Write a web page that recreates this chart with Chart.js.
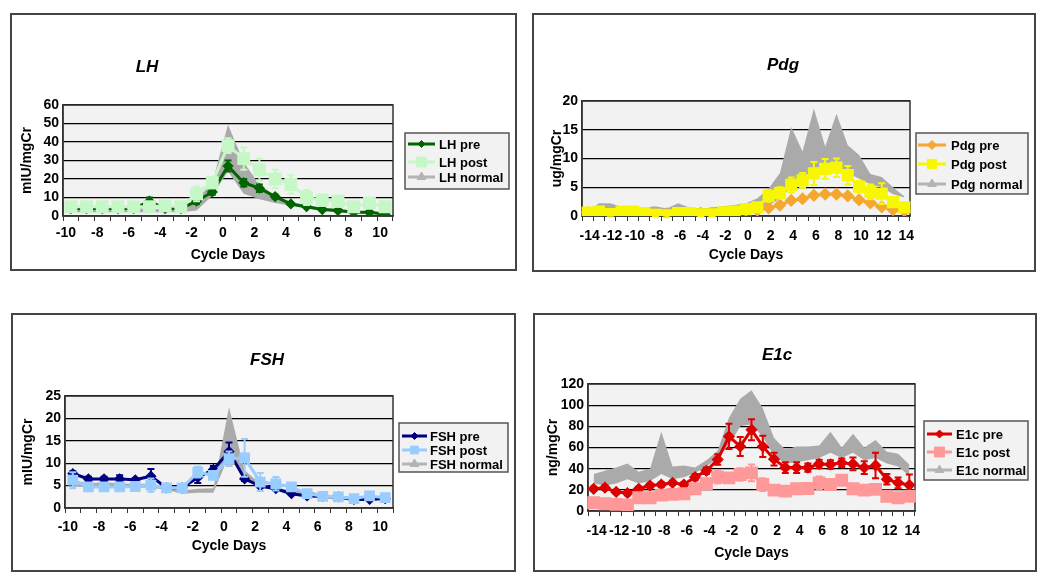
<!DOCTYPE html>
<html>
<head>
<meta charset="utf-8">
<script src="https://cdn.jsdelivr.net/npm/chart.js@4.4.1/dist/chart.umd.min.js"></script>
<style>
  body { margin: 0; background: #fff; width: 1050px; height: 585px; position: relative; overflow: hidden; }
  canvas { position: absolute; }
  .borda { position: absolute; border: 2px solid #444; box-sizing: border-box; pointer-events: none; }
</style>
</head>
<body>
<canvas id="g-lh" width="507" height="258" style="left:10px;top:13px"></canvas>
<div class="borda" style="left:10px;top:13px;width:507px;height:258px"></div>
<canvas id="g-pdg" width="504" height="259" style="left:532px;top:13px"></canvas>
<div class="borda" style="left:532px;top:13px;width:504px;height:259px"></div>
<canvas id="g-fsh" width="505" height="259" style="left:11px;top:313px"></canvas>
<div class="borda" style="left:11px;top:313px;width:505px;height:259px"></div>
<canvas id="g-e1c" width="504" height="259" style="left:533px;top:313px"></canvas>
<div class="borda" style="left:533px;top:313px;width:504px;height:259px"></div>

<script>
// dias do ciclo
const diasCurtos = [-10, -9, -8, -7, -6, -5, -4, -3, -2, -1, 0, 1, 2, 3, 4, 5, 6, 7, 8, 9, 10];
const diasLongos = [-14, -13, -12, -11, -10, -9, -8, -7, -6, -5, -4, -3, -2, -1, 0, 1, 2, 3, 4, 5, 6, 7, 8, 9, 10, 11, 12, 13, 14];

// LH
const lhPre = [4, 4, 4, 4, 4, 8, 4, 4, 8, 13, 27, 18, 15, 10.5, 6.5, 5, 3.5, 3, 2, 2, 1];
const lhPreErro = [0, 0, 0, 0, 0, 2, 0.5, 0.5, 1.5, 1.5, 3, 2, 2, 1, 0.5, 0.5, 0.5, 0.5, 0.5, 0.5, 0.5];
const lhPost = [5, 5, 5, 5, 5, 5, 5.5, 5, 12, 18, 38, 31, 25, 20, 17, 10, 8.5, 8, 5, 7, 5];
const lhPostErro = [1, 1, 1, 1, 1, 1, 1, 1, 4, 3, 4, 6, 6, 5, 5, 4, 3, 3, 2, 3, 2];
const lhNormalMin = [2, 2, 2, 2, 2, 2, 2, 2, 3, 11, 24, 12, 9, 7, 5.5, 4, 3, 2, 1.5, 1, 1];
const lhNormalMax = [4, 4, 4, 4, 4, 4, 3.5, 3.5, 9, 18, 49.5, 29, 17, 11, 7.5, 6, 4.5, 3.8, 3, 2.5, 2.2];

// Pdg
const pdgPre = [0.6, 0.6, 0.5, 0.5, 0.5, 0.5, 0.4, 0.4, 0.5, 0.5, 0.5, 0.5, 0.6, 0.8, 1.0, 1.0, 1.4, 1.9, 2.7, 3.0, 3.6, 3.8, 3.8, 3.5, 2.8, 2.3, 1.6, 1.1, 0.9];
const pdgPreErro = [0.2, 0.2, 0.2, 0.2, 0.2, 0.2, 0.2, 0.2, 0.2, 0.2, 0.2, 0.2, 0.2, 0.2, 0.2, 0.2, 0.3, 0.3, 0.3, 0.3, 0.3, 0.3, 0.3, 0.3, 0.3, 0.3, 0.3, 0.3, 0.3];
const pdgPost = [0.6, 0.75, 0.35, 0.75, 0.75, 0.5, 0.2, 0.1, 0.5, 0.5, 0.3, 0.3, 0.65, 0.75, 1.2, 1.5, 3.5, 4.0, 5.4, 6.2, 7.4, 8.2, 8.4, 7.1, 5.1, 4.2, 3.9, 2.4, 1.5];
const pdgPostErro = [0.3, 0.3, 0.3, 0.3, 0.3, 0.3, 0.3, 0.3, 0.3, 0.3, 0.3, 0.3, 0.3, 0.3, 0.4, 0.4, 1.0, 1.0, 1.3, 1.3, 2.0, 1.7, 1.6, 1.6, 1.0, 1.3, 1.8, 0.6, 0.5];
const pdgNormalMin = [0.3, 0.5, 0.5, 0.4, 0.4, 0.4, 0.4, 0.4, 0.5, 0.4, 0.4, 0.4, 0.5, 0.5, 0.7, 1.0, 1.8, 3.0, 5.0, 6.0, 7.0, 8.0, 8.0, 7.5, 6.5, 5.5, 5.0, 3.8, 3.2];
const pdgNormalMax = [0.8, 2.2, 2.2, 1.6, 1.4, 1.5, 1.7, 1.3, 2.2, 1.5, 1.3, 1.5, 1.7, 1.9, 2.2, 3.1, 4.8, 7.5, 15.5, 11.2, 18.7, 12.1, 17.8, 12.3, 10.6, 7.3, 6.8, 5.0, 3.4];

// FSH
const fshPre = [7.7, 6.5, 6.5, 6.5, 6.3, 7.1, 4.5, 4.5, 6.8, 8.6, 12.6, 6.5, 4.9, 4.3, 3.2, 2.7, 2.6, 2.5, 1.9, 1.9, 2.1];
const fshPreErro = [0.5, 0.5, 0.5, 0.8, 0.4, 1.6, 0.3, 0.3, 1.2, 0.8, 2, 0.5, 0.3, 0.3, 0.3, 0.2, 0.2, 0.2, 0.2, 0.2, 0.2];
const fshPost = [6.2, 4.7, 4.7, 4.7, 4.8, 5.1, 4.5, 4.5, 8.0, 7.3, 11.0, 11.2, 5.8, 5.4, 4.7, 3.2, 2.6, 2.5, 2.1, 2.7, 2.3];
const fshPostErro = [1.8, 0.6, 0.6, 0.8, 0.6, 1.5, 0.8, 0.4, 1.2, 0.6, 1.6, 4.2, 2.0, 1.5, 0.8, 0.3, 0.3, 0.3, 0.3, 0.5, 0.4];
const fshNormalMin = [5, 4.5, 4.7, 4.5, 4.5, 4.5, 4.1, 3.2, 3.4, 3.4, 11.8, 6.2, 4.5, 3.9, 3.0, 2.5, 2.1, 1.9, 1.6, 1.7, 1.9];
const fshNormalMax = [6.3, 5.4, 5.8, 5.4, 5.4, 5.4, 4.7, 3.9, 4.3, 4.4, 22.5, 8.4, 5.4, 4.5, 3.9, 4.1, 2.8, 2.6, 2.3, 2.3, 2.6];

// E1c
const e1cPre = [21, 22, 18, 17, 21, 24, 25, 26.6, 25, 32, 38, 48.6, 70.5, 61, 76.8, 61, 49, 41, 41, 41, 44.5, 44, 45.5, 44.5, 41, 43, 30, 26.6, 24.5];
const e1cPreErro = [2, 2, 2, 2, 2, 2, 2, 2, 2, 3, 3, 5, 12, 9, 10, 10, 6, 5, 5, 4, 4, 4, 4, 6, 6, 12, 5, 5, 10];
const e1cPost = [7.8, 6.9, 6.3, 5.6, 12.5, 12.5, 15, 15.7, 16.3, 21, 25.7, 32, 31.3, 34.5, 36, 25, 19.7, 18.8, 21, 21.3, 26.6, 25, 29, 21, 19.7, 20.4, 14, 12.5, 14];
const e1cPostErro = [2, 2, 2, 2, 2, 2, 2, 2, 2, 3, 4, 6, 4, 6, 8, 6, 3, 2, 2, 2, 6, 3, 3, 2, 2, 3, 2, 2, 2];
const e1cNormalMin = [26, 24, 26, 30, 26, 28, 35, 30, 32, 36, 42, 50, 62, 80, 82, 70, 52, 45, 46, 48, 50, 55, 50, 55, 48, 50, 45, 42, 33];
const e1cNormalMax = [35, 38, 41, 45, 37, 40, 75, 42, 43, 41, 48, 57, 88, 106, 114, 97, 69, 58, 61, 61, 62, 75, 60, 73, 60, 67, 56, 54, 44];

Chart.defaults.font.family = '"Liberation Sans", Arial, sans-serif';
Chart.defaults.font.weight = 'bold';
Chart.defaults.font.size = 14;
Chart.defaults.color = '#000';

const FONTE = '"Liberation Sans", Arial, sans-serif';
const COR_NORMAL = '#aaaaaa';

// desenha as barras de erro de cada serie
const barrasErro = {
  id: 'barrasErro',
  afterDatasetDraw(chart, args) {
    const ds = chart.data.datasets[args.index];
    if (!ds.erros) return;
    const escalaY = chart.scales.y;
    const ctx = chart.ctx;
    ctx.save();
    ctx.strokeStyle = ds.borderColor;
    ctx.lineWidth = 2;
    args.meta.data.forEach((pt, i) => {
      const e = ds.erros[i];
      if (!e) return;
      const v = ds.data[i];
      const y1 = escalaY.getPixelForValue(v + e);
      const y2 = escalaY.getPixelForValue(v - e);
      ctx.beginPath();
      ctx.moveTo(pt.x, y1); ctx.lineTo(pt.x, y2);
      ctx.moveTo(pt.x - 3.5, y1); ctx.lineTo(pt.x + 3.5, y1);
      ctx.moveTo(pt.x - 3.5, y2); ctx.lineTo(pt.x + 3.5, y2);
      ctx.stroke();
    });
    ctx.restore();
  }
};

function montarGrafico(id, p) {
  // fundo, moldura, titulo e legenda em caixa (estilo excel)
  const moldura = {
    id: 'moldura',
    beforeDraw(chart) {
      const a = chart.chartArea;
      const ctx = chart.ctx;
      ctx.save();
      ctx.fillStyle = '#f2f2f2';
      ctx.fillRect(a.left, a.top, a.right - a.left, a.bottom - a.top);
      ctx.restore();
    },
    beforeDatasetsDraw(chart) {
      const a = chart.chartArea;
      const ctx = chart.ctx;
      ctx.save();
      ctx.strokeStyle = '#333';
      ctx.lineWidth = 1.5;
      ctx.strokeRect(a.left, a.top, a.right - a.left, a.bottom - a.top);
      ctx.restore();
    },
    afterDraw(chart) {
      const ctx = chart.ctx;
      ctx.save();
      ctx.fillStyle = '#000';
      ctx.font = 'italic bold 17px ' + FONTE;
      ctx.textAlign = 'center';
      ctx.textBaseline = 'middle';
      ctx.fillText(p.nome, p.titulo[0], p.titulo[1]);

      const L = p.legenda;
      ctx.fillStyle = '#f2f2f2';
      ctx.fillRect(L.x, L.y, L.w, L.h);
      ctx.strokeStyle = '#555';
      ctx.lineWidth = 1.5;
      ctx.strokeRect(L.x, L.y, L.w, L.h);

      [1, 0, 2].forEach((idx, k) => {
        const ds = chart.data.datasets[idx];
        const cor = ds.corLegenda || ds.borderColor;
        const y = L.itens[k];
        ctx.strokeStyle = cor;
        ctx.lineWidth = 3;
        ctx.beginPath();
        ctx.moveTo(L.linhaX, y);
        ctx.lineTo(L.linhaX + L.linhaW, y);
        ctx.stroke();
        ctx.fillStyle = cor;
        ctx.lineWidth = 1;
        Chart.helpers.drawPoint(ctx, {
          pointStyle: ds.estiloLegenda || ds.pointStyle,
          radius: ds.raioLegenda || ds.pointRadius,
          rotation: 0,
          borderWidth: 1
        }, L.linhaX + L.linhaW / 2, y);
        ctx.fillStyle = '#000';
        ctx.font = 'bold 13px ' + FONTE;
        ctx.textAlign = 'left';
        ctx.textBaseline = 'middle';
        ctx.fillText(ds.label, L.textoX, y + 1);
      });
      ctx.restore();
    }
  };

  const canvas = document.getElementById(id);
  const a = p.area;

  new Chart(canvas, {
    type: 'line',
    data: {
      labels: p.dias,
      datasets: [
        {
          label: p.nome + ' post', data: p.post, erros: p.postErro,
          borderColor: p.corPost, backgroundColor: p.corPost, pointBorderColor: p.corPost,
          pointStyle: 'rect', pointRadius: p.raioPost, borderWidth: 3, tension: 0, order: 1
        },
        {
          label: p.nome + ' pre', data: p.pre, erros: p.preErro,
          borderColor: p.corPre, backgroundColor: p.corPre, pointBorderColor: p.corPre,
          pointStyle: 'rectRot', pointRadius: p.raioPre, borderWidth: 3, tension: 0, order: 2
        },
        {
          label: p.nome + ' normal', data: p.normalMax,
          borderWidth: 0, pointRadius: 0, backgroundColor: COR_NORMAL, borderColor: COR_NORMAL,
          fill: 3, tension: 0, order: 3,
          corLegenda: '#b4b4b4', estiloLegenda: 'triangle', raioLegenda: 5
        },
        {
          label: 'normal min', data: p.normalMin,
          borderWidth: 0, pointRadius: 0, fill: false, tension: 0, order: 4
        }
      ]
    },
    options: {
      responsive: false,
      animation: false,
      events: [],
      layout: { padding: { top: a.t, right: canvas.width - a.r, left: 0, bottom: 0 } },
      plugins: {
        legend: { display: false },
        tooltip: { enabled: false }
      },
      scales: {
        x: {
          offset: true,
          grid: { offset: true, drawOnChartArea: false, drawTicks: true, tickLength: 5, color: '#333', lineWidth: 1 },
          border: { color: '#333', width: 1.5 },
          ticks: {
            autoSkip: false, maxRotation: 0, minRotation: 0, padding: p.padTicksX,
            labelOffset: p.desloc,
            callback: (v, i) => (p.dias[i] % 2 === 0 ? String(p.dias[i]) : '')
          },
          title: { display: true, text: 'Cycle Days', padding: { top: 0, bottom: p.padTituloX } },
          afterFit: s => { s.height = canvas.height - a.b; }
        },
        y: {
          min: 0, max: p.maxY,
          ticks: { stepSize: p.passoY, padding: 4, autoSkip: false },
          grid: { color: '#000', lineWidth: 1.3, drawTicks: false },
          border: { color: '#333', width: 1.5 },
          title: { display: true, text: p.unidade, padding: { top: p.padTituloY, bottom: 0 } },
          afterFit: s => { s.width = a.l; }
        }
      }
    },
    plugins: [moldura, barrasErro]
  });
}

montarGrafico('g-lh', {
  nome: 'LH', unidade: 'mIU/mgCr', dias: diasCurtos,
  pre: lhPre, preErro: lhPreErro, post: lhPost, postErro: lhPostErro,
  normalMin: lhNormalMin, normalMax: lhNormalMax,
  corPre: '#006400', corPost: '#c6f7c6', raioPre: 3.5, raioPost: 7,
  maxY: 60, passoY: 10, desloc: -5, padTicksX: 4,
  area: { l: 53, r: 383, t: 92, b: 203 },
  padTituloX: 7.6, padTituloY: 8.6, titulo: [137, 54],
  legenda: { x: 395, y: 120, w: 104, h: 56, itens: [131, 149, 164], linhaX: 398, linhaW: 27, textoX: 429 }
});

montarGrafico('g-pdg', {
  nome: 'Pdg', unidade: 'ug/mgCr', dias: diasLongos,
  pre: pdgPre, preErro: pdgPreErro, post: pdgPost, postErro: pdgPostErro,
  normalMin: pdgNormalMin, normalMax: pdgNormalMax,
  corPre: '#f5a732', corPost: '#f7f700', raioPre: 4.5, raioPost: 6.5,
  maxY: 20, passoY: 5, desloc: 2, padTicksX: 6.5,
  area: { l: 50, r: 378, t: 88, b: 203 },
  padTituloX: 8.6, padTituloY: 16.6, titulo: [251, 52],
  legenda: { x: 384, y: 120, w: 112, h: 61, itens: [132, 151, 171], linhaX: 386, linhaW: 28, textoX: 419 }
});

montarGrafico('g-fsh', {
  nome: 'FSH', unidade: 'mIU/mgCr', dias: diasCurtos,
  pre: fshPre, preErro: fshPreErro, post: fshPost, postErro: fshPostErro,
  normalMin: fshNormalMin, normalMax: fshNormalMax,
  corPre: '#000080', corPost: '#99ccff', raioPre: 3.5, raioPost: 5.5,
  maxY: 25, passoY: 5, desloc: -5, padTicksX: 6,
  area: { l: 54, r: 382, t: 83, b: 195 },
  padTituloX: 17.6, padTituloY: 8.6, titulo: [256, 47],
  legenda: { x: 388, y: 110, w: 109, h: 49, itens: [123, 137, 151], linhaX: 391, linhaW: 25, textoX: 419 }
});

montarGrafico('g-e1c', {
  nome: 'E1c', unidade: 'ng/mgCr', dias: diasLongos,
  pre: e1cPre, preErro: e1cPreErro, post: e1cPost, postErro: e1cPostErro,
  normalMin: e1cNormalMin, normalMax: e1cNormalMax,
  corPre: '#dd0000', corPost: '#ff9999', raioPre: 4, raioPost: 7,
  maxY: 120, passoY: 20, desloc: 3, padTicksX: 7,
  area: { l: 55, r: 382, t: 71, b: 198 },
  padTituloX: 10.6, padTituloY: 11.6, titulo: [244, 42],
  legenda: { x: 391, y: 108, w: 104, h: 59, itens: [121, 139, 157], linhaX: 394, linhaW: 25, textoX: 423 }
});
</script>
</body>
</html>
